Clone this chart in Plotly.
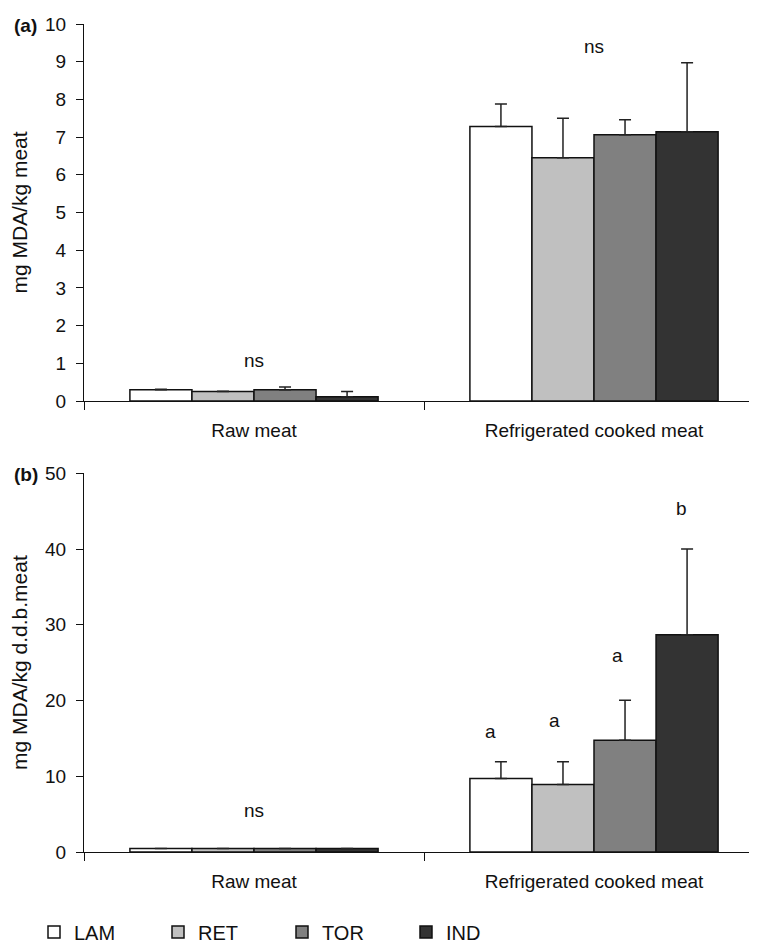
import plotly.graph_objects as go

categories = ["Raw meat", "Refrigerated cooked meat"]
series = ["LAM", "RET", "TOR", "IND"]
colors = ["#ffffff", "#c0c0c0", "#808080", "#333333"]

# Panel (a): mg MDA/kg meat
a_LAM = [0.30, 7.28]
a_RET = [0.25, 6.45]
a_TOR = [0.30, 7.06]
a_IND = [0.11, 7.14]
a_LAM_err = [0.01, 0.60]
a_RET_err = [0.01, 1.05]
a_TOR_err = [0.07, 0.40]
a_IND_err = [0.14, 1.83]

# Panel (b): mg MDA/kg d.d.b. meat
b_LAM = [0.45, 9.7]
b_RET = [0.45, 8.9]
b_TOR = [0.45, 14.75]
b_IND = [0.45, 28.7]
b_LAM_err = [0.0, 2.2]
b_RET_err = [0.0, 3.0]
b_TOR_err = [0.0, 5.3]
b_IND_err = [0.0, 11.3]

a_vals = [a_LAM, a_RET, a_TOR, a_IND]
a_errs = [a_LAM_err, a_RET_err, a_TOR_err, a_IND_err]
b_vals = [b_LAM, b_RET, b_TOR, b_IND]
b_errs = [b_LAM_err, b_RET_err, b_TOR_err, b_IND_err]

# significance labels: (text, category position, y)
a_labels = [("ns", 0.0, 1.08), ("ns", 1.0, 9.39)]
b_labels = [("ns", 0.0, 5.45), ("a", 1 - 0.304, 15.9), ("a", 1 - 0.115, 17.4),
            ("a", 1 + 0.07, 25.9), ("b", 1 + 0.258, 45.3)]

FONT = "Liberation Sans, Arial, Helvetica, sans-serif"
W, H = 757, 944
OFF = 8  # page body margin

fig = go.Figure()
for i, s in enumerate(series):
    for vals, errs, xa, ya, show in [(a_vals, a_errs, "x", "y", True),
                                      (b_vals, b_errs, "x2", "y2", False)]:
        fig.add_trace(go.Bar(
            x=categories, y=vals[i], name=s, legendgroup=s, showlegend=show,
            xaxis=xa, yaxis=ya,
            marker=dict(color=colors[i], line=dict(color="#111111", width=1.5)),
            error_y=dict(type="data", array=errs[i], arrayminus=[0, 0],
                         symmetric=False, color="#222222", thickness=1.5, width=6),
        ))

annotations = []
for txt, xv, yv in a_labels:
    annotations.append(dict(text=txt, x=xv, y=yv, xref="x", yref="y",
                            showarrow=False, font=dict(size=19, color="#111")))
for txt, xv, yv in b_labels:
    annotations.append(dict(text=txt, x=xv, y=yv, xref="x2", yref="y2",
                            showarrow=False, font=dict(size=19, color="#111")))
annotations.append(dict(text="<b>(a)</b>", x=(25.5 - OFF) / W, y=1 - (25 - OFF) / H,
                        xref="paper", yref="paper", showarrow=False,
                        xanchor="center", yanchor="middle", font=dict(size=19, color="#111")))
annotations.append(dict(text="<b>(b)</b>", x=(25.5 - OFF) / W, y=1 - (474 - OFF) / H,
                        xref="paper", yref="paper", showarrow=False,
                        xanchor="center", yanchor="middle", font=dict(size=19, color="#111")))

xdom = [(84 - OFF) / W, 1.0]
xend = -0.5 + (W - (84 - OFF)) / 340.0
common_x = dict(type="category", range=[-0.5, xend], showline=True, linecolor="#111",
                linewidth=1, ticks="outside", tickson="boundaries", ticklen=8,
                tickcolor="#111", showgrid=False, zeroline=False, automargin=False,
                tickfont=dict(size=19, color="#111"), ticklabelstandoff=12)
common_y = dict(showline=True, linecolor="#111", linewidth=1.2, ticks="outside",
                ticklen=7, tickcolor="#111", showgrid=False, zeroline=False,
                automargin=False, tickfont=dict(size=19, color="#111"),
                ticklabelstandoff=6)

fig.update_layout(
    width=W, height=H,
    margin=dict(l=0, r=0, t=0, b=0),
    paper_bgcolor="white", plot_bgcolor="white",
    font=dict(family=FONT, color="#111"),
    barmode="group", bargap=0.27, bargroupgap=0,
    xaxis=dict(domain=xdom, anchor="y", **common_x),
    yaxis=dict(domain=[1 - (401 - OFF) / H, 1 - (24 - OFF) / H], anchor="x", range=[0, 10], dtick=1,
               title=dict(text="mg MDA/kg meat", font=dict(size=21), standoff=13), **common_y),
    xaxis2=dict(domain=xdom, anchor="y2", **common_x),
    yaxis2=dict(domain=[1 - (852 - OFF) / H, 1 - (473.3 - OFF) / H], anchor="x2", range=[0, 50], dtick=10,
                title=dict(text="mg MDA/kg d.d.b.meat", font=dict(size=21), standoff=13), **common_y),
    legend=dict(orientation="h", x=26 / W, xanchor="left", y=1 - (932 - OFF) / H, yanchor="middle",
                entrywidth=79, entrywidthmode="pixels", traceorder="normal",
                font=dict(size=20, color="#111"),
                bgcolor="rgba(0,0,0,0)"),
    annotations=annotations,
)

fig.write_html("out.html")
